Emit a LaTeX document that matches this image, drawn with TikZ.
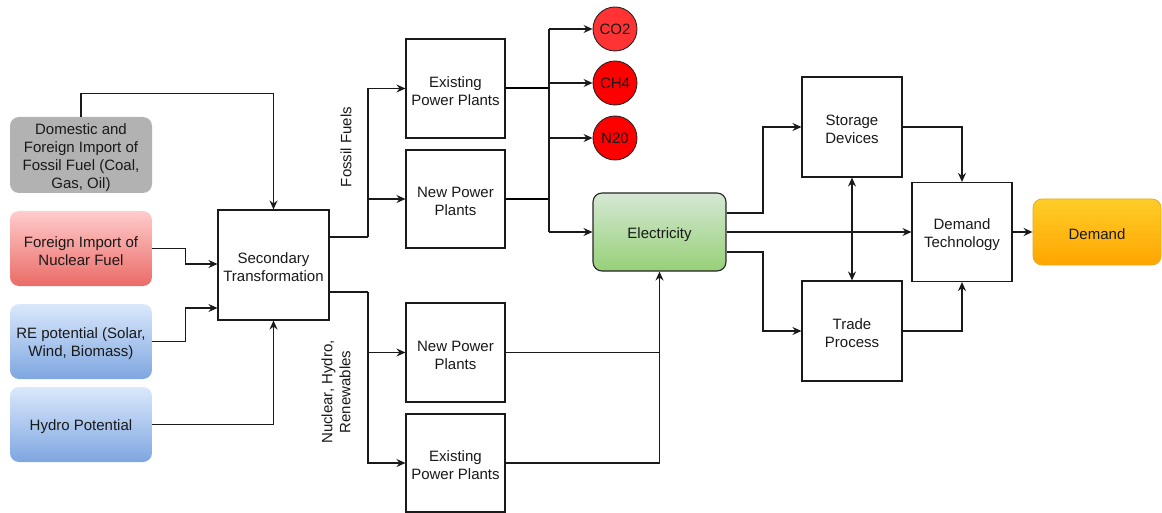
\documentclass[tikz,border=0pt]{standalone}
\usepackage{fontspec}
\setmainfont{Liberation Sans}
\usetikzlibrary{arrows.meta}
\definecolor{lnc}{HTML}{1A1A1A}
% a strut that sets the text of a box a little lower
\newcommand\dropstrut{\rule{0pt}{15.5pt}}
\begin{document}
\begin{tikzpicture}[x=1pt,y=-1pt,
  font=\fontsize{15}{18}\selectfont,
  every node/.style={align=center,inner sep=0pt,text=black!90},
  plain/.style={draw=lnc,line width=1.1pt,fill=white},
  srcbox/.style={rounded corners=9pt,minimum width=142pt,minimum height=75pt,draw=none},
  emis/.style={circle,draw=black!85,line width=0.9pt,minimum size=44pt},
  link/.style={draw=lnc,line width=1.1pt},
  arr/.style={link,-{Stealth[length=9pt,width=8pt,inset=3pt]}},
  heavy/.style={draw=black,line width=2pt}
]
\useasboundingbox (0,0) rectangle (1162,513);

% fuel and resource sources
\node[srcbox,fill=black!30,minimum height=76pt] (fossil) at (81,155)
  {\dropstrut Domestic and\\Foreign Import of\\Fossil Fuel (Coal,\\Gas, Oil)};
\node[srcbox,top color=red!20!white,bottom color={rgb,255:red,234;green,107;blue,102}] (nuc) at (81,248.5)
  {\dropstrut Foreign Import of\\Nuclear Fuel};
\node[srcbox,top color={rgb,255:red,218;green,232;blue,252},bottom color={rgb,255:red,126;green,166;blue,224}] (re) at (81,341.5)
  {\dropstrut RE potential (Solar,\\Wind, Biomass)};
\node[srcbox,top color={rgb,255:red,218;green,232;blue,252},bottom color={rgb,255:red,126;green,166;blue,224}] (hydro) at (81,424.5)
  {\dropstrut Hydro Potential};

% transformation stage
\node[plain,minimum width=111pt,minimum height=110pt] (sec) at (273.5,265)
  {\dropstrut Secondary\\Transformation};

% power plants
\node[plain,minimum width=99pt,minimum height=99pt] (epp1) at (455.5,88.5) {\dropstrut Existing\\Power Plants};
\node[plain,minimum width=99pt,minimum height=98pt] (npp1) at (455.5,199) {\dropstrut New Power\\Plants};
\node[plain,minimum width=99pt,minimum height=99pt] (npp2) at (455.5,352.5) {\dropstrut New Power\\Plants};
\node[plain,minimum width=99pt,minimum height=98pt] (epp2) at (455.5,463) {\dropstrut Existing\\Power Plants};

\node[rotate=90] (fosl) at (346,147) {Fossil Fuels};
\node[rotate=90] (nhr) at (336,392) {Nuclear, Hydro,\\Renewables};

% emissions
\node[emis,fill={rgb,255:red,255;green,51;blue,51}] (co2) at (615,29) {CO2};
\node[emis,fill=red] (ch4) at (615,83) {CH4};
\node[emis,fill=red] (n2o) at (615,138) {N20};

% electricity and demand side
\node[draw=black!85,line width=1.1pt,rounded corners=9pt,minimum width=133pt,minimum height=78pt,
  top color={rgb,255:red,213;green,232;blue,212},bottom color={rgb,255:red,151;green,208;blue,119}] (elec) at (659.5,232) {\dropstrut Electricity};
\node[plain,minimum width=100pt,minimum height=100pt] (stor) at (852,127) {\dropstrut Storage\\Devices};
\node[plain,minimum width=100pt,minimum height=100pt] (trade) at (852,331) {\dropstrut Trade\\Process};
\node[plain,minimum width=100pt,minimum height=99pt] (dtech) at (962,232) {\dropstrut Demand\\Technology};
\node[draw={rgb,255:red,230;green,170;blue,40},line width=0.8pt,rounded corners=9pt,minimum width=128pt,minimum height=66pt,
  top color={rgb,255:red,255;green,205;blue,40},bottom color={rgb,255:red,255;green,165;blue,0}] (dem) at (1097,232) {\dropstrut Demand};

% helper coordinates for the junction lines
\coordinate (fj) at (368,0);
\coordinate (bx) at (549,0);
\coordinate (ej) at (763,0);

% inputs to the transformation
\draw[arr] (fossil.north) -- ++(0,-23) -| (sec.north);
\draw[arr] (nuc.east) -- ++(33,0) |- ([yshift=1pt]sec.west);
\draw[arr] (re.east) -- ++(33,0) |- ([yshift=-43pt]sec.west);
\draw[arr] (hydro.east) -| (sec.south);

% fossil branch
\draw[link] ([yshift=28pt]sec.east) -- ([yshift=28pt]sec.east -| fj);
\draw[arr] ([yshift=28pt]sec.east -| fj) |- (epp1.west);
\draw[arr] ([yshift=28pt]sec.east -| fj) |- (npp1.west);

% nuclear, hydro and renewables branch
\draw[link] ([yshift=-27pt]sec.east) -- ([yshift=-27pt]sec.east -| fj);
\draw[arr] ([yshift=-27pt]sec.east -| fj) |- (npp2.west);
\draw[arr] ([yshift=-27pt]sec.east -| fj) |- (epp2.west);

% fossil plant outputs
\draw[heavy] (epp1.east) -- (epp1.east -| bx);
\draw[heavy] (npp1.east) -- (npp1.east -| bx);
\draw[link,line width=1.5pt] (co2.west -| bx) -- (elec.west -| bx);
\draw[arr] (co2.west -| bx) -- (co2.west);
\draw[arr] (ch4.west -| bx) -- (ch4.west);
\draw[arr] (n2o.west -| bx) -- (n2o.west);
\draw[arr] (elec.west -| bx) -- (elec.west);

% non-fossil plant outputs
\draw[link] (epp2.east) -| (elec.south);
\draw[arr] (npp2.east) -| (elec.south);

% electricity distribution
\draw[arr] ([yshift=19pt]elec.east) -- ([yshift=19pt]elec.east -| ej) |- (stor.west);
\draw[arr] (elec.east) -- (dtech.west);
\draw[arr] ([yshift=-20pt]elec.east) -- ([yshift=-20pt]elec.east -| ej) |- (trade.west);
\draw[link,line width=1.5pt,{Stealth[length=9pt,width=8pt,inset=3pt]}-{Stealth[length=9pt,width=8pt,inset=3pt]}] (stor.south) -- (trade.north);
\draw[arr] (stor.east) -| (dtech.north);
\draw[arr] (trade.east) -| (dtech.south);
\draw[arr,line width=2pt] (dtech.east) -- (dem.west);
\end{tikzpicture}
\end{document}
